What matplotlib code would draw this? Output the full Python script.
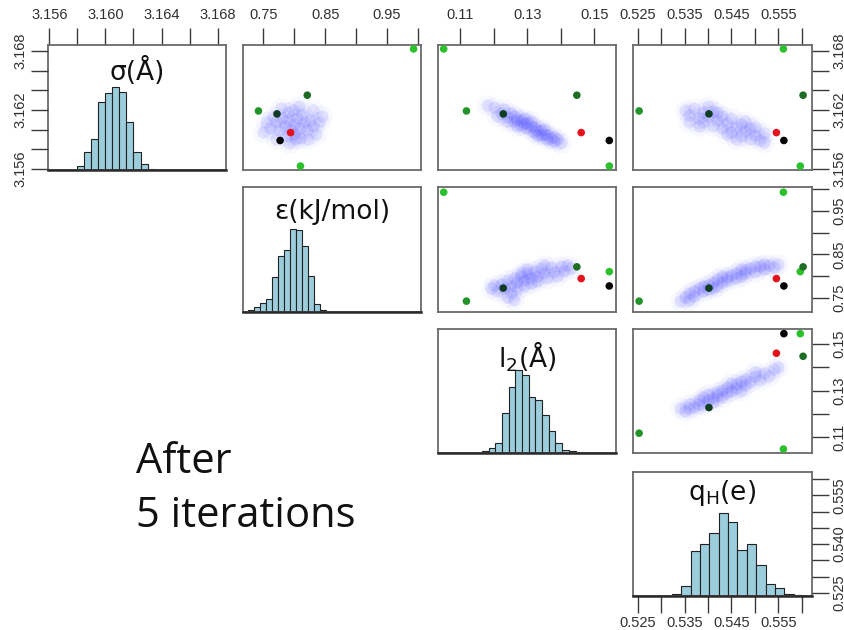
import matplotlib
matplotlib.use("Agg")
import matplotlib.pyplot as plt

# ---------------------------------------------------------------- variables
var_labels = ["σ(Å)", "ε(kJ/mol)", r"l$_2$(Å)", r"q$_\mathrm{H}$(e)"]
var_limits = [(3.1559, 3.1686), (0.717, 1.005), (0.1033, 0.1565), (0.524, 0.5622)]

sigma_ticks = [3.156, 3.158, 3.160, 3.162, 3.164, 3.166, 3.168]
eps_ticks = [0.75, 0.80, 0.85, 0.90, 0.95, 1.00]
l2_ticks = [0.11, 0.12, 0.13, 0.14, 0.15]
qh_ticks = [0.525, 0.530, 0.535, 0.540, 0.545, 0.550, 0.555, 0.560]
var_ticks = [sigma_ticks, eps_ticks, l2_ticks, qh_ticks]

top_labels = [
    ["3.156", "", "3.160", "", "3.164", "", "3.168"],
    ["0.75", "", "0.85", "", "0.95", ""],
    ["0.11", "", "0.13", "", "0.15"],
    ["0.525", "", "0.535", "", "0.545", "", "0.555", ""],
]
side_labels = [
    ["3.156", "", "", "3.162", "", "", "3.168"],
    ["0.75", "", "0.85", "", "0.95", ""],
    ["0.11", "", "0.13", "", "0.15"],
    ["0.525", "", "", "0.540", "", "", "0.555", ""],
]

# ---------------------------------------------------- marginal histograms (%)
sigma_bin_start, sigma_bin_width = 3.1580, 0.0005
sigma_pct = [1.0, 4.1, 7.2, 15.7, 17.9, 19.1, 18.1, 11.1, 4.1, 1.4, 0.2]

eps_bin_start, eps_bin_width = 0.7245, 0.0097
eps_pct = [0.4, 1.1, 2.0, 2.9, 7.6, 12.2, 13.6, 18.1, 17.8, 14.4, 7.8, 1.8, 0.4]

l2_bin_start, l2_bin_width = 0.1164, 0.0020
l2_pct = [0.4, 1.1, 2.1, 8.5, 14.1, 17.7, 16.6, 12.0, 11.3, 8.1, 4.6, 2.1, 0.7, 0.5, 0.1]

qh_bin_start, qh_bin_width = 0.5323, 0.0020
qh_pct = [0.4, 2.2, 9.9, 11.5, 13.8, 18.3, 16.3, 10.1, 11.5, 6.8, 2.7, 1.8, 0.4, 0.2]

hist_data = [
    (sigma_bin_start, sigma_bin_width, sigma_pct),
    (eps_bin_start, eps_bin_width, eps_pct),
    (l2_bin_start, l2_bin_width, l2_pct),
    (qh_bin_start, qh_bin_width, qh_pct),
]
hist_top = [28.9, 27.2, 26.4, 27.35]

# ------------------------------------------------ posterior sample clouds
cloud_eps_sigma = [
    (0.800, 3.1606), (0.790, 3.1610), (0.810, 3.1602), (0.795, 3.1600), (0.805, 3.1612),
    (0.785, 3.1604), (0.815, 3.1608), (0.800, 3.1596), (0.780, 3.1612), (0.820, 3.1600),
    (0.775, 3.1600), (0.825, 3.1610), (0.790, 3.1618), (0.810, 3.1592), (0.770, 3.1608),
    (0.830, 3.1604), (0.798, 3.1620), (0.802, 3.1590), (0.765, 3.1614), (0.835, 3.1596),
    (0.760, 3.1602), (0.788, 3.1594), (0.812, 3.1616), (0.755, 3.1608), (0.840, 3.1608),
    (0.778, 3.1622), (0.822, 3.1590), (0.792, 3.1586), (0.808, 3.1624), (0.750, 3.1598),
    (0.845, 3.1614), (0.770, 3.1590), (0.830, 3.1620),
]
cloud_l2_sigma = [
    (0.120, 3.1623), (0.122, 3.1617), (0.123, 3.1621), (0.124, 3.1613), (0.125, 3.1617),
    (0.126, 3.1609), (0.126, 3.1614), (0.127, 3.1611), (0.128, 3.1605), (0.128, 3.1610),
    (0.129, 3.1607), (0.130, 3.1602), (0.130, 3.1607), (0.131, 3.1604), (0.132, 3.1598),
    (0.132, 3.1603), (0.133, 3.1600), (0.134, 3.1595), (0.134, 3.1600), (0.135, 3.1596),
    (0.136, 3.1591), (0.136, 3.1595), (0.137, 3.1592), (0.138, 3.1588), (0.139, 3.1590),
    (0.140, 3.1586), (0.127, 3.1604), (0.131, 3.1609), (0.124, 3.1609), (0.135, 3.1601),
    (0.129, 3.1612), (0.133, 3.1595), (0.121, 3.1614), (0.138, 3.1593), (0.118, 3.1625),
]
cloud_qh_sigma = [
    (0.535, 3.1620), (0.536, 3.1615), (0.537, 3.1622), (0.538, 3.1612), (0.539, 3.1618),
    (0.539, 3.1608), (0.540, 3.1614), (0.541, 3.1604), (0.541, 3.1619), (0.542, 3.1610),
    (0.543, 3.1602), (0.543, 3.1614), (0.544, 3.1607), (0.545, 3.1598), (0.545, 3.1612),
    (0.546, 3.1603), (0.547, 3.1594), (0.547, 3.1606), (0.548, 3.1599), (0.549, 3.1591),
    (0.549, 3.1602), (0.550, 3.1595), (0.551, 3.1589), (0.552, 3.1597), (0.544, 3.1596),
    (0.542, 3.1618), (0.546, 3.1590), (0.538, 3.1604), (0.540, 3.1624), (0.548, 3.1609),
    (0.552, 3.1587), (0.536, 3.1608), (0.550, 3.1603),
]
cloud_l2_eps = [
    (0.119, 0.772), (0.121, 0.765), (0.122, 0.782), (0.123, 0.772), (0.124, 0.790),
    (0.125, 0.778), (0.125, 0.760), (0.126, 0.795), (0.127, 0.785), (0.127, 0.770),
    (0.128, 0.800), (0.129, 0.790), (0.129, 0.778), (0.130, 0.806), (0.131, 0.795),
    (0.131, 0.783), (0.132, 0.812), (0.133, 0.800), (0.133, 0.788), (0.134, 0.818),
    (0.135, 0.806), (0.136, 0.795), (0.137, 0.820), (0.138, 0.810), (0.139, 0.800),
    (0.140, 0.822), (0.141, 0.812), (0.142, 0.826), (0.130, 0.815), (0.128, 0.808),
    (0.124, 0.752), (0.126, 0.745), (0.135, 0.825), (0.143, 0.818), (0.120, 0.780),
]
cloud_qh_eps = [
    (0.534, 0.742), (0.535, 0.752), (0.536, 0.745), (0.537, 0.765), (0.537, 0.755),
    (0.538, 0.772), (0.539, 0.766), (0.540, 0.780), (0.540, 0.770), (0.541, 0.786),
    (0.542, 0.778), (0.542, 0.792), (0.543, 0.785), (0.544, 0.797), (0.544, 0.790),
    (0.545, 0.803), (0.546, 0.795), (0.546, 0.808), (0.547, 0.801), (0.548, 0.813),
    (0.548, 0.806), (0.549, 0.818), (0.550, 0.810), (0.551, 0.822), (0.552, 0.815),
    (0.553, 0.826), (0.554, 0.820), (0.555, 0.828), (0.543, 0.800), (0.539, 0.776),
    (0.547, 0.816), (0.541, 0.772), (0.550, 0.822), (0.536, 0.760), (0.552, 0.828),
]
cloud_qh_l2 = [
    (0.534, 0.1225), (0.535, 0.1215), (0.536, 0.1245), (0.537, 0.1230), (0.538, 0.1262),
    (0.538, 0.1245), (0.539, 0.1275), (0.540, 0.1260), (0.540, 0.1285), (0.541, 0.1270),
    (0.542, 0.1295), (0.542, 0.1280), (0.543, 0.1305), (0.544, 0.1290), (0.544, 0.1318),
    (0.545, 0.1300), (0.546, 0.1330), (0.546, 0.1312), (0.547, 0.1340), (0.548, 0.1325),
    (0.548, 0.1352), (0.549, 0.1338), (0.550, 0.1362), (0.551, 0.1348), (0.552, 0.1378),
    (0.553, 0.1365), (0.554, 0.1392), (0.541, 0.1252), (0.545, 0.1332), (0.539, 0.1240),
    (0.550, 0.1380), (0.536, 0.1228), (0.547, 0.1300), (0.543, 0.1272), (0.555, 0.1400),
]
clouds = {
    (0, 1): cloud_eps_sigma, (0, 2): cloud_l2_sigma, (0, 3): cloud_qh_sigma,
    (1, 2): cloud_l2_eps, (1, 3): cloud_qh_eps, (2, 3): cloud_qh_l2,
}

# ------------------------------------------------ highlighted parameter sets
point_sigma = [3.1682, 3.1563, 3.1619, 3.1616, 3.1635, 3.1597, 3.1589]
point_eps = [0.993, 0.810, 0.742, 0.772, 0.821, 0.794, 0.777]
point_l2 = [0.1050, 0.1545, 0.1118, 0.1228, 0.1448, 0.1461, 0.1545]
point_qh = [0.5561, 0.5597, 0.5253, 0.5402, 0.5603, 0.5546, 0.5562]
point_colors = ["#2cc02c", "#2cc02c", "#23942a", "#0f3d22", "#1d6e22", "#e3121d", "#050505"]
point_values = [point_sigma, point_eps, point_l2, point_qh]

# ------------------------------------------------------------------ layout
W, H = 845, 630
col_x = [48, 243, 438, 633]
col_w = [178, 178, 178, 179]
row_top = [45, 187, 329, 472]
row_h = [125, 125, 124, 124]

HIST_FACE = "#9ccddc"
EDGE = "#222222"
FRAME = "#6a6a6a"
CLOUD = "#3c3cff"
TICK_FONT = "Liberation Sans"
tick_kw = dict(length=12.5, width=1.0, color="#3a3a3a", labelsize=10.5,
               labelcolor="#303030", direction="out", labelfontfamily=TICK_FONT)

fig = plt.figure(figsize=(W / 100, H / 100), dpi=100)


def panel_rect(r, c):
    return [col_x[c] / W, 1 - (row_top[r] + row_h[r]) / H, col_w[c] / W, row_h[r] / H]


def top_axis(ax, k):
    ax.set_xticks(var_ticks[k])
    ax.set_xticklabels(top_labels[k])
    ax.tick_params(axis="x", bottom=False, top=True, labelbottom=False,
                   labeltop=True, pad=4, **tick_kw)


def bottom_axis(ax, k):
    ax.set_xticks(var_ticks[k])
    ax.set_xticklabels(top_labels[k])
    ax.tick_params(axis="x", bottom=True, top=False, labelbottom=True,
                   labeltop=False, pad=2, **tick_kw)


def side_axis(ax, k, side):
    ax.set_ylim(var_limits[k])
    ax.set_yticks(var_ticks[k])
    ax.set_yticklabels(side_labels[k], rotation=90, va="center")
    right = side == "right"
    ax.tick_params(axis="y", left=not right, right=right, labelleft=not right,
                   labelright=right, pad=2, **tick_kw)


title_y = [0.79, 0.80, 0.78, 0.83]

for i in range(4):
    for j in range(i, 4):
        ax = fig.add_axes(panel_rect(i, j))
        ax.set_xlim(var_limits[j])
        ax.set_xticks([])
        ax.set_yticks([])
        for s in ax.spines.values():
            s.set_color(FRAME)
            s.set_linewidth(1.3)

        if i == j:
            start, width, pct = hist_data[i]
            lefts = [start + n * width for n in range(len(pct))]
            ax.bar(lefts, pct, width=width, align="edge", color=HIST_FACE,
                   edgecolor=EDGE, linewidth=0.8, zorder=2)
            ax.set_ylim(0, hist_top[i])
            ax.axhline(0, color="#2a2a2a", lw=1.8, zorder=3, clip_on=False)
            ax.text(0.5, title_y[i], var_labels[i], transform=ax.transAxes,
                    ha="center", va="center", fontsize=19, color="#111111")
        else:
            ax.set_ylim(var_limits[i])
            cx, cy = zip(*clouds[(i, j)])
            # soft halo plus denser core for each posterior sample
            ax.scatter(cx, cy, s=220, c=CLOUD, alpha=0.035, linewidths=0, zorder=2)
            ax.scatter(cx, cy, s=80, c=CLOUD, alpha=0.11, linewidths=0, zorder=2)
            ax.scatter(point_values[j], point_values[i], s=30, c=point_colors,
                       linewidths=0, zorder=4, clip_on=False)

        if i == 0:
            top_axis(ax, j)
        if i == 3 and j == 3:
            bottom_axis(ax, j)

        if j == 3:
            if i == j:
                tw = ax.twinx()
                for s in tw.spines.values():
                    s.set_visible(False)
                side_axis(tw, i, "right")
            else:
                side_axis(ax, i, "right")
        if i == 0 and j == 0:
            tw = ax.twinx()
            for s in tw.spines.values():
                s.set_visible(False)
            side_axis(tw, 0, "left")

fig.text(136 / W, 1 - 473 / H, "After", fontsize=30, family="Open Sans",
         va="baseline", ha="left", color="#111111")
fig.text(136 / W, 1 - 527 / H, "5 iterations", fontsize=30, family="Open Sans",
         va="baseline", ha="left", color="#111111")

fig.savefig("out.png", dpi=100)
